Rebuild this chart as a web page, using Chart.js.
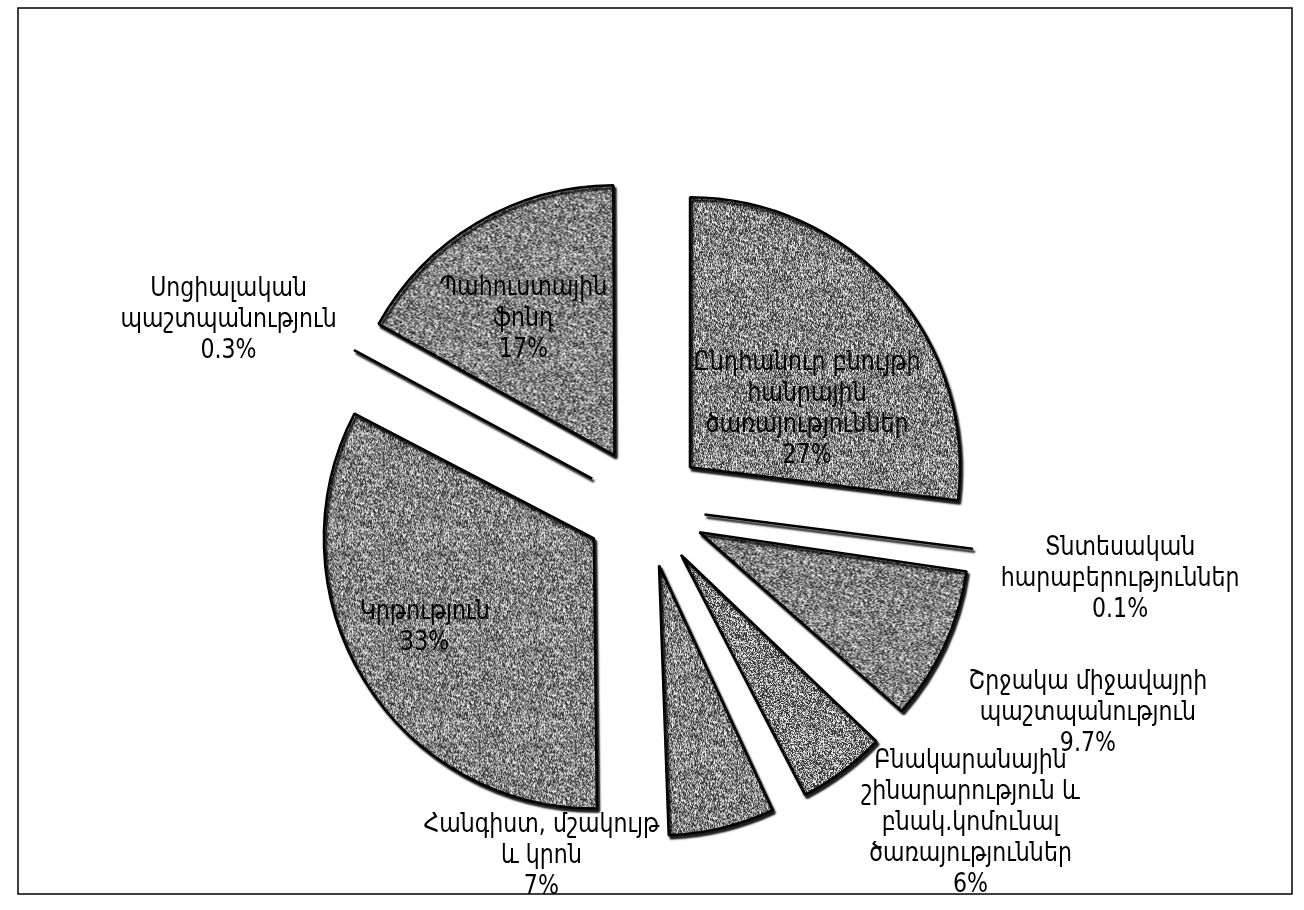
<!DOCTYPE html>
<html>
<head>
<meta charset="utf-8">
<script src="https://cdn.jsdelivr.net/npm/chart.js@4.4.0/dist/chart.umd.min.js"></script>
<style>
  html, body { margin: 0; padding: 0; background: #fff; }
  #wrap { width: 1304px; height: 910px; }
</style>
</head>
<body>
<div id="wrap"><canvas id="budgetPie" width="1304" height="910"></canvas></div>
<script>
// slices, clockwise from 12 o'clock
const categories = [
  ['Ընդհանուր բնույթի', 'հանրային', 'ծառայություններ'],
  ['Տնտեսական', 'հարաբերություններ'],
  ['Շրջակա միջավայրի', 'պաշտպանություն'],
  ['Բնակարանային', 'շինարարություն և', 'բնակ.կոմունալ', 'ծառայություններ'],
  ['Հանգիստ, մշակույթ', 'և կրոն'],
  ['Կրթություն'],
  ['Սոցիալական', 'պաշտպանություն'],
  ['Պահուստային', 'ֆոնդ']
];
const shares = [27, 0.1, 9.7, 6, 7, 33, 0.3, 17];
const shareLabels = ['27%', '0.1%', '9.7%', '6%', '7%', '33%', '0.3%', '17%'];

// where each label sits: angle shift from the slice middle (deg) and distance in radii
const labelShift = [10.5, 1.4, 0.1, -9.0, 30.0, 2.9, -4.2, -2.3];
const labelDist = [0.70, 1.78, 1.81, 1.68, 1.35, 0.93, 1.69, 0.83];

const pieRadius = 270;
const explode = 240; // Chart.js v4 moves a slice by offset / 4

// speckled grey fill like the scanned original
function makeSpeckle() {
  const size = 96;
  const c = document.createElement('canvas');
  c.width = c.height = size;
  const g = c.getContext('2d');
  const img = g.createImageData(size, size);
  let s = 20240611;
  for (let p = 0; p < size * size; p++) {
    s = (s * 1103515245 + 12345) & 0x7fffffff;
    const v = (s >> 16) % 100;
    const shade = v < 38 ? 55 : v < 72 ? 145 : 230;
    img.data[p * 4] = shade;
    img.data[p * 4 + 1] = shade;
    img.data[p * 4 + 2] = shade;
    img.data[p * 4 + 3] = 255;
  }
  g.putImageData(img, 0, 0);
  return g.createPattern(c, 'repeat');
}

const pieLabels = {
  id: 'pieLabels',
  // chart.js grows narrow exploded slices; keep every slice the same radius
  afterDatasetsUpdate(chart) {
    chart.getDatasetMeta(0).data.forEach(arc => {
      const fix = 1 - Math.sin(Math.min(Math.PI, arc.circumference));
      arc.outerRadius = pieRadius - (explode / 4) * fix;
    });
  },
  beforeDatasetsDraw(chart) {
    const ctx = chart.ctx;
    ctx.save();
    ctx.shadowColor = 'rgba(0,0,0,0.9)';
    ctx.shadowOffsetX = 2;
    ctx.shadowOffsetY = 3;
    ctx.shadowBlur = 2;
  },
  afterDatasetsDraw(chart) {
    const ctx = chart.ctx;
    ctx.restore();
    const meta = chart.getDatasetMeta(0);
    ctx.save();
    ctx.fillStyle = '#000';
    ctx.font = '26px "DejaVu Sans"';
    ctx.textAlign = 'center';
    ctx.textBaseline = 'middle';
    const lineH = 31;
    meta.data.forEach((arc, i) => {
      const ang = (arc.startAngle + arc.endAngle) / 2 + labelShift[i] * Math.PI / 180;
      const r = pieRadius * labelDist[i];
      const x = arc.x + Math.cos(ang) * r;
      const y = arc.y + Math.sin(ang) * r;
      const lines = categories[i].concat([shareLabels[i]]);
      const top = y - (lines.length - 1) * lineH / 2;
      lines.forEach((line, k) => {
        ctx.save();
        ctx.translate(x, top + k * lineH);
        ctx.scale(0.85, 1);
        ctx.fillText(line, 0, 0);
        ctx.restore();
      });
    });
    ctx.restore();
  },
  afterDraw(chart) {
    const ctx = chart.ctx;
    ctx.save();
    ctx.strokeStyle = '#000';
    ctx.lineWidth = 1.5;
    ctx.strokeRect(18, 8, 1274, 886);
    ctx.restore();
  }
};

const fill = makeSpeckle();

new Chart(document.getElementById('budgetPie'), {
  type: 'pie',
  data: {
    labels: categories.map(c => c.join(' ')),
    datasets: [{
      data: shares,
      backgroundColor: fill,
      borderColor: '#000',
      borderWidth: 2.5,
      borderJoinStyle: 'bevel',
      offset: explode,
    }],
  },
  options: {
    responsive: false,
    animation: false,
    radius: pieRadius,
    layout: { padding: { top: 104, right: 14 } },
    plugins: {
      legend: { display: false },
      tooltip: { enabled: false },
    },
  },
  plugins: [pieLabels],
});
</script>
</body>
</html>
